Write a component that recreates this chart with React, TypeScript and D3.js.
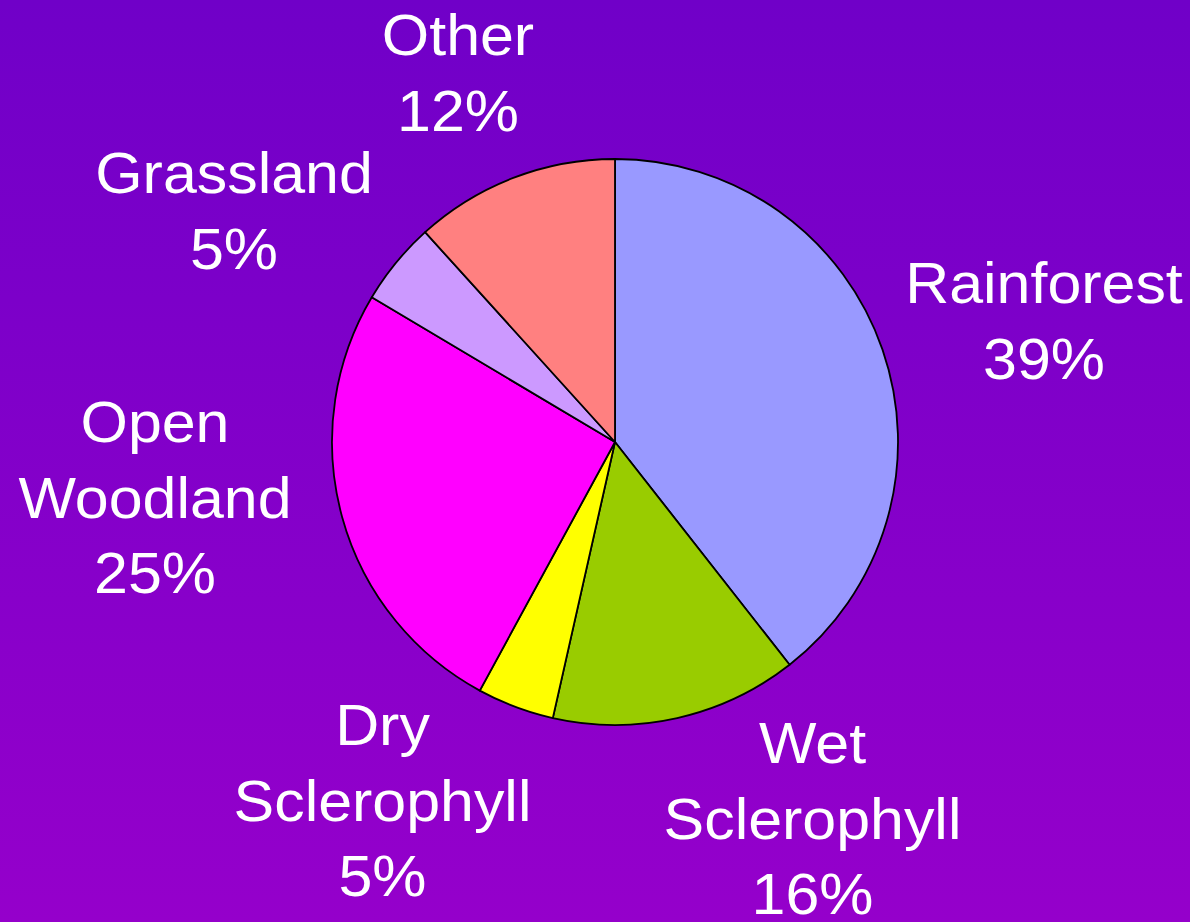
import React from "react";
import * as d3 from "d3";

// Data (slice sizes as drawn, clockwise from 12 o'clock)
const categories = ["Rainforest", "Wet Sclerophyll", "Dry Sclerophyll", "Open Woodland", "Grassland", "Other"];
const values = [39.4, 14.1, 4.4, 25.6, 4.75, 11.7];
const percentLabels = ["39%", "16%", "5%", "25%", "5%", "12%"];
const colors = ["#9999FF", "#99CC00", "#FFFF00", "#FF00FF", "#CC99FF", "#FF8080"];
// label line breaks as shown
const labelLines = [
  ["Rainforest"],
  ["Wet", "Sclerophyll"],
  ["Dry", "Sclerophyll"],
  ["Open", "Woodland"],
  ["Grassland"],
  ["Other"],
];

// Layout (not data)
const W = 1190;
const H = 922;
const CX = 615;
const CY = 442;
const R = 283;
const FONT = 58;
const LINE = 75.5;
// label block anchor: center x and first baseline y
const labelAnchors = [
  [1044, 303],
  [812.5, 763],
  [382.5, 745],
  [155, 442],
  [234, 193],
  [458, 55],
];

export default function App() {
  const pie = d3.pie<number>().sort(null).value((d) => d).startAngle(0).endAngle(2 * Math.PI);
  const arcs = pie(values);
  const arc = d3.arc<d3.PieArcDatum<number>>().innerRadius(0).outerRadius(R);

  return (
    <svg
      width={W}
      height={H}
      style={{ position: "fixed", left: 0, top: 0, display: "block" }}
      xmlns="http://www.w3.org/2000/svg"
    >
      <defs>
        <linearGradient id="bg" x1="0" y1="0" x2="0" y2="1">
          <stop offset="0" stopColor="#7000C8" />
          <stop offset="1" stopColor="#9500CB" />
        </linearGradient>
      </defs>
      <rect x={0} y={0} width={W} height={H} fill="url(#bg)" />
      <g transform={`translate(${CX},${CY})`}>
        {arcs.map((a, i) => (
          <path
            key={categories[i]}
            d={arc(a) || ""}
            fill={colors[i]}
            stroke="#000"
            strokeWidth={1.8}
            strokeLinejoin="round"
          />
        ))}
      </g>
      <g fontFamily="'Liberation Sans', Arial, sans-serif" fontSize={FONT} fill="#fff" textAnchor="middle">
        {categories.map((c, i) => {
          const lines = [...labelLines[i], percentLabels[i]];
          const [x, y] = labelAnchors[i];
          return (
            <g key={c}>
              {lines.map((t, j) => (
                <text key={j} transform={`translate(${x},${y + j * LINE}) scale(1.05,1)`}>
                  {t}
                </text>
              ))}
            </g>
          );
        })}
      </g>
    </svg>
  );
}
